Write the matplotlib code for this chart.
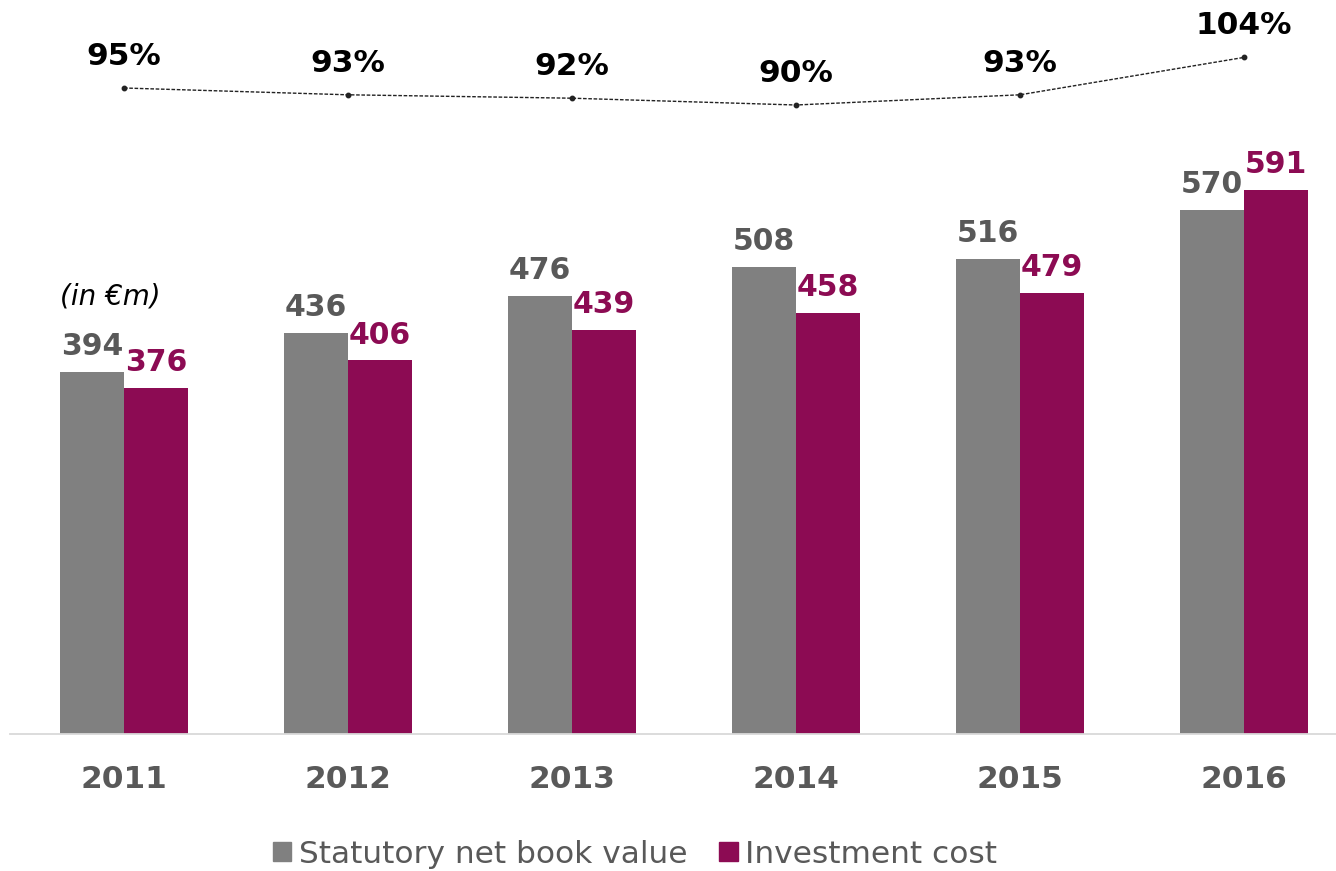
import matplotlib
matplotlib.use("Agg")
import matplotlib.pyplot as plt
from matplotlib.patches import Patch
import numpy as np

years = ["2011", "2012", "2013", "2014", "2015", "2016"]
net_book_value = [394, 436, 476, 508, 516, 570]
investment_cost = [376, 406, 439, 458, 479, 591]
ratio_pct = [95, 93, 92, 90, 93, 104]
ratio_labels = ["95%", "93%", "92%", "90%", "93%", "104%"]

GRAY = "#808080"
MAG = "#8C0B53"
TXT_GRAY = "#595959"

W, H = 1336, 871
fig = plt.figure(figsize=(W / 100, H / 100), dpi=100)
plt.rcParams['font.family'] = ['DejaVu Sans']

# axes: left at 10px, bottom at baseline y=734, top at 0
ax = fig.add_axes([10 / W, (H - 734) / H, 1326 / W, 734 / H])
x = np.arange(len(years))
bw = 64 / 224
ax.bar(x - bw / 2, net_book_value, bw, color=GRAY, label="Statutory net book value")
ax.bar(x + bw / 2, investment_cost, bw, color=MAG, label="Investment cost")
ax.set_xlim((10 - 124) / 224, (1336 - 124) / 224)
ax.set_ylim(0, 734 / 0.92)
for s in ["top", "right", "left"]:
    ax.spines[s].set_visible(False)
ax.spines["bottom"].set_color("#D9D9D9")
ax.spines["bottom"].set_linewidth(1.3)
ax.set_yticks([])
ax.set_xticks([])

for i, (a, b) in enumerate(zip(net_book_value, investment_cost)):
    ax.annotate(str(a), (i - bw / 2, a), xytext=(0, 12.2), textcoords="offset points",
                ha="center", va="baseline", fontsize=21.5, fontweight="bold", color=TXT_GRAY)
    ax.annotate(str(b), (i + bw / 2, b), xytext=(0, 12.2), textcoords="offset points",
                ha="center", va="baseline", fontsize=21.5, fontweight="bold", color=MAG)
    ax.annotate(years[i], (i, 0), xytext=(0, -39), textcoords="offset points",
                ha="center", va="baseline", fontsize=22.5, fontweight="bold", color=TXT_GRAY,
                annotation_clip=False)

ax2 = ax.twinx()
ax2.set_ylim(95 - 646 / 3.4, 95 + 88 / 3.4)
ax2.plot(x, ratio_pct, color="#222222", lw=1.0, ls=(0, (2.6, 1.2)), marker="o", ms=3.2)
for s in ax2.spines.values():
    s.set_visible(False)
ax2.set_yticks([])
for i, (r, lab) in enumerate(zip(ratio_pct, ratio_labels)):
    ax2.annotate(lab, (i, r), xytext=(0, 16.5), textcoords="offset points",
                 ha="center", va="baseline", fontsize=22.5, fontweight="bold", color="black")

fig.text(60 / W, 1 - 305 / H, "(in €m)", fontsize=20, style="italic", color="black",
         ha="left", va="baseline")

handles = [Patch(color=GRAY, label="Statutory net book value"),
           Patch(color=MAG, label="Investment cost")]
fig.legend(handles=handles, loc="center", bbox_to_anchor=(635 / W, 1 - 854 / H), ncol=2,
           frameon=False, fontsize=22.5, handlelength=0.6, handleheight=0.6,
           handletextpad=0.25, columnspacing=1.0, borderpad=0, labelcolor=TXT_GRAY)

fig.savefig("out.png", dpi=100)
